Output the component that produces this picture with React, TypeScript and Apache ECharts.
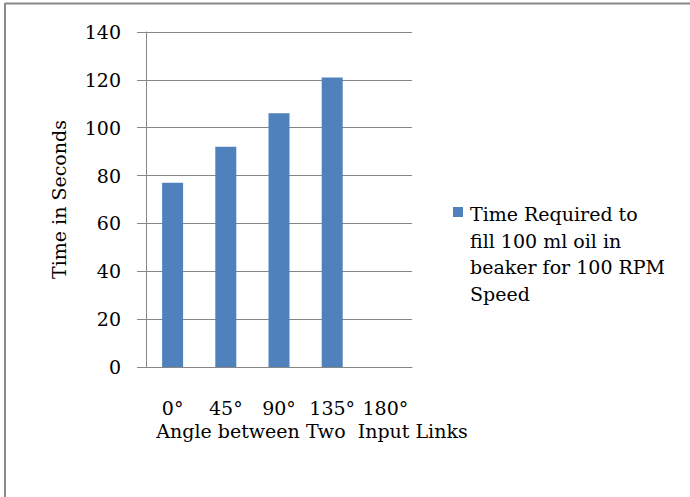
import React, { useEffect, useRef } from "react";
import * as echarts from "echarts";

const categories = ["0°", "45°", "90°", "135°", "180°"];
const timeValues: (number | null)[] = [77, 92, 106, 121, null];
const seriesName = "Time Required to fill 100 ml oil in beaker for 100 RPM Speed";
const legendLines = ["Time Required to", "fill 100 ml oil in", "beaker for 100 RPM", "Speed"];
const yTicks = { min: 0, max: 140, interval: 20 };
const xTitle = "Angle between Two  Input Links";
const yTitle = "Time in Seconds";

const FONT = "DejaVu Serif";
const FS = 19;

export default function App() {
  const ref = useRef<HTMLDivElement>(null);
  useEffect(() => {
    document.body.style.margin = "0";
    const chart = echarts.init(ref.current!, null, { renderer: "svg" });
    chart.setOption({
      animation: false,
      backgroundColor: "#ffffff",
      textStyle: { fontFamily: FONT },
      grid: { left: 146, top: 32, right: 278, bottom: 130, containLabel: false },
      xAxis: {
        type: "category",
        data: categories,
        boundaryGap: true,
        axisLine: { show: true, lineStyle: { color: "#868686", width: 1 } },
        axisTick: { show: false },
        axisLabel: { color: "#000", fontSize: FS, fontFamily: FONT, margin: 31, interval: 0 },
        name: xTitle,
        nameLocation: "middle",
        nameGap: 54,
        nameTextStyle: { color: "#000", fontSize: FS, fontFamily: FONT, padding: [0, 0, 0, 66] },
      },
      yAxis: {
        type: "value",
        min: yTicks.min,
        max: yTicks.max,
        interval: yTicks.interval,
        axisLine: { show: true, lineStyle: { color: "#868686", width: 1 } },
        axisTick: { show: true, inside: false, length: 9, lineStyle: { color: "#868686" } },
        axisLabel: { color: "#000", fontSize: FS, fontFamily: FONT, margin: 25 },
        splitLine: { show: true, lineStyle: { color: "#868686", width: 1 } },
        name: yTitle,
        nameLocation: "middle",
        nameGap: 78,
        nameRotate: 90,
        nameTextStyle: { color: "#000", fontSize: FS, fontFamily: FONT },
      },
      series: [
        {
          name: seriesName,
          type: "bar",
          data: timeValues,
          barWidth: 21,
          itemStyle: { color: "#4F81BD" },
        },
      ],
      graphic: [
        {
          type: "line",
          shape: { x1: 5, y1: 3.5, x2: 690, y2: 3.5 },
          style: { stroke: "#888", lineWidth: 2 },
        },
        {
          type: "line",
          shape: { x1: 5, y1: 3, x2: 5, y2: 497 },
          style: { stroke: "#888", lineWidth: 2 },
        },
        {
          type: "rect",
          shape: { x: 453, y: 207, width: 10, height: 10 },
          style: { fill: "#4F81BD" },
        },
        {
          type: "text",
          x: 470,
          y: 201,
          style: {
            text: legendLines.join("\n"),
            fontSize: FS,
            lineHeight: 26.5,
            fontFamily: FONT,
            fill: "#000",
          },
        },
      ],
    });
    return () => chart.dispose();
  }, []);
  return <div ref={ref} style={{ width: 690, height: 497 }} />;
}
